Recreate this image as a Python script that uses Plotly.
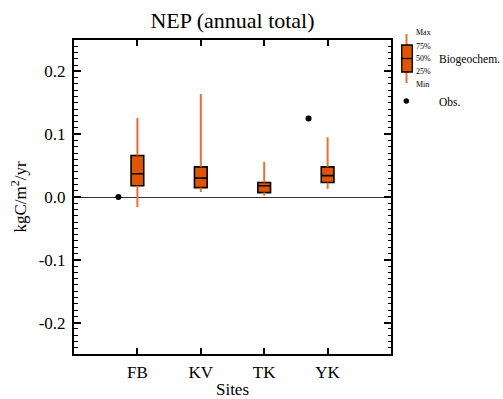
import plotly.graph_objects as go

sites = ["FB", "KV", "TK", "YK"]
site_pos = [1, 2, 3, 4]
bg_min = [-0.016, 0.008, 0.002, 0.013]
bg_q1 = [0.018, 0.015, 0.007, 0.023]
bg_med = [0.037, 0.030, 0.018, 0.034]
bg_q3 = [0.066, 0.048, 0.023, 0.048]
bg_max = [0.126, 0.164, 0.056, 0.095]
obs = [0.0, None, None, 0.125]

FONT = "Liberation Serif, Times New Roman, serif"
W, H = 503, 399
L, R, T, B = 74, 391, 40, 354

fig = go.Figure()

# whiskers (drawn as segments outside the box)
wx, wy = [], []
for p, mn, q1, q3, mx in zip(site_pos, bg_min, bg_q1, bg_q3, bg_max):
    wx += [p, p, None, p, p, None]
    wy += [mn, q1, None, q3, mx, None]
fig.add_trace(go.Scatter(x=wx, y=wy, mode="lines",
                         line=dict(color="#EC6E30", width=2),
                         hoverinfo="skip", showlegend=False))

fig.add_trace(go.Box(x=site_pos, q1=bg_q1, median=bg_med, q3=bg_q3,
                     lowerfence=bg_q1, upperfence=bg_q3, width=0.2,
                     fillcolor="#E05500", line=dict(color="black", width=1.6),
                     boxpoints=False, showlegend=False))

ox = [p - 0.3 for p, o in zip(site_pos, obs) if o is not None]
oy = [o for o in obs if o is not None]
fig.add_trace(go.Scatter(x=ox, y=oy, mode="markers",
                         marker=dict(color="black", size=6),
                         showlegend=False))

def px(x):
    return (x - L) / (R - L)

def py(y):
    return (B - y) / (B - T)

shapes = [
    dict(type="line", xref="paper", yref="paper", x0=px(406.5), x1=px(406.5),
         y0=py(34), y1=py(83), line=dict(color="#EC6E30", width=2)),
    dict(type="rect", xref="paper", yref="paper", x0=px(401.7), x1=px(412.3),
         y0=py(45), y1=py(72), fillcolor="#E05500", line=dict(color="black", width=1.3)),
    dict(type="line", xref="paper", yref="paper", x0=px(401.7), x1=px(412.3),
         y0=py(58.5), y1=py(58.5), line=dict(color="black", width=1.3)),
    dict(type="circle", xref="paper", yref="paper", x0=px(403.5), x1=px(409),
         y0=py(98.3), y1=py(103.8), fillcolor="black", line=dict(color="black", width=0)),
]

annos = []
for txt, yy in [("Max", 33), ("75%", 46), ("50%", 58.5), ("25%", 71), ("Min", 84)]:
    annos.append(dict(text=txt, xref="paper", yref="paper", x=px(413.5), y=py(yy),
                      xanchor="left", yanchor="middle", showarrow=False,
                      font=dict(family=FONT, size=8, color="black")))
annos.append(dict(text="Biogeochem.", xref="paper", yref="paper", x=px(437), y=py(59),
                  xanchor="left", yanchor="middle", showarrow=False,
                  font=dict(family=FONT, size=11.5, color="black")))
annos.append(dict(text="Obs.", xref="paper", yref="paper", x=px(437), y=py(102),
                  xanchor="left", yanchor="middle", showarrow=False,
                  font=dict(family=FONT, size=11.5, color="black")))

fig.update_layout(
    width=W, height=H,
    margin=dict(l=L, r=W - R, t=T, b=H - B, autoexpand=False),
    paper_bgcolor="white", plot_bgcolor="white",
    font=dict(family=FONT, size=17, color="black"),
    title=dict(text="NEP (annual total)", x=(L + R) / 2 / W, xanchor="center",
               y=1 - 20 / H, yanchor="middle", font=dict(family=FONT, size=22)),
    shapes=shapes, annotations=annos,
    showlegend=False,
)
fig.update_xaxes(range=[0, 5], tickvals=site_pos, ticktext=sites,
                 ticks="inside", ticklen=6, tickwidth=1.5, tickcolor="black",
                 ticklabelstandoff=2, automargin=False,
                 showline=True, linecolor="black", linewidth=2, mirror="ticks",
                 showgrid=False, zeroline=False,
                 title=dict(text="Sites", standoff=11, font=dict(size=17)))
fig.update_yaxes(range=[-0.25, 0.25], tickvals=[-0.2, -0.1, 0.0, 0.1, 0.2],
                 ticktext=["-0.2", "-0.1", "0.0", "0.1", "0.2"],
                 ticks="inside", ticklen=7, tickwidth=1.5, tickcolor="black",
                 ticklabelstandoff=3, automargin=False,
                 minor=dict(dtick=0.01, ticks="inside", ticklen=3.5, tickwidth=1.2,
                            tickcolor="black", showgrid=False),
                 showline=True, linecolor="black", linewidth=2, mirror="ticks",
                 showgrid=False, zeroline=True, zerolinecolor="#333333", zerolinewidth=1,
                 title=dict(text="kgC/m<sup>2</sup>/yr", standoff=8, font=dict(size=17)))

fig.write_html("out.html")
